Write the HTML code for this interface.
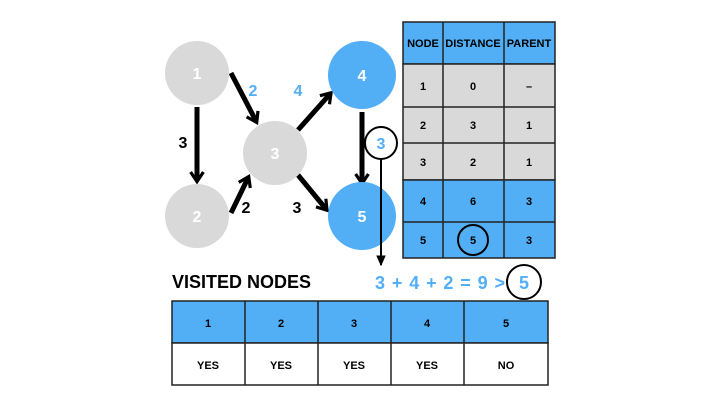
<!DOCTYPE html>
<html><head><style>body{margin:0;background:#fff}svg{display:block}text{font-family:"Liberation Sans",sans-serif;font-weight:bold}</style></head><body>
<svg width="720" height="405" viewBox="0 0 720 405" xmlns="http://www.w3.org/2000/svg">
<defs><marker id="a" viewBox="0 0 10 10" refX="6" refY="5" markerWidth="3.2" markerHeight="3.2" orient="auto"><path d="M1,1 L7,5 L1,9" fill="none" stroke="#000" stroke-width="2"/></marker>
<marker id="b" viewBox="0 0 10 10" refX="8" refY="5" markerWidth="6" markerHeight="6" orient="auto"><path d="M0,1 L9,5 L0,9Z" fill="#000"/></marker></defs>
<g stroke="#000" stroke-width="5" fill="none" marker-end="url(#a)">
<line x1="197" y1="107" x2="197" y2="180"/>
<line x1="231" y1="73" x2="256" y2="121"/>
<line x1="231" y1="213" x2="248" y2="178"/>
<line x1="298" y1="130" x2="330" y2="94"/>
<line x1="298" y1="175" x2="326" y2="209"/>
<line x1="362" y1="112" x2="362" y2="182"/>
</g>
<circle cx="197" cy="73" r="32" fill="#d9d9d9"/>
<circle cx="197" cy="216" r="32" fill="#d9d9d9"/>
<circle cx="275" cy="153" r="32" fill="#d9d9d9"/>
<circle cx="362" cy="75" r="34" fill="#52aef5"/>
<circle cx="362" cy="216" r="34" fill="#52aef5"/>
<g fill="#fff" font-size="16" text-anchor="middle">
<text x="197" y="79">1</text><text x="197" y="222">2</text><text x="275" y="159">3</text><text x="362" y="81">4</text><text x="362" y="222">5</text></g>
<g font-size="16" text-anchor="middle">
<text x="183" y="148">3</text><text x="246" y="213">2</text><text x="297" y="213">3</text>
<text x="253" y="96" fill="#52aef5">2</text><text x="298" y="96" fill="#52aef5">4</text>
<text x="381" y="149" fill="#52aef5">3</text></g>
<circle cx="381" cy="143" r="16" fill="none" stroke="#000" stroke-width="2"/>
<line x1="381" y1="159" x2="381" y2="265" stroke="#000" stroke-width="2" marker-end="url(#b)"/>
<g stroke="#222" stroke-width="1.5">
<rect x="403" y="22" width="152" height="42" fill="#52aef5"/>
<rect x="403" y="64" width="152" height="116" fill="#d9d9d9"/>
<rect x="403" y="180" width="152" height="78" fill="#52aef5"/>
<line x1="443" y1="22" x2="443" y2="258"/><line x1="504" y1="22" x2="504" y2="258"/>
<line x1="403" y1="107" x2="555" y2="107"/><line x1="403" y1="143" x2="555" y2="143"/><line x1="403" y1="222" x2="555" y2="222"/>
</g>
<g font-size="11" text-anchor="middle">
<text x="423" y="47">NODE</text><text x="473" y="47">DISTANCE</text><text x="529" y="47">PARENT</text>
<text x="423" y="90">1</text><text x="473" y="90">0</text><text x="529" y="90">–</text>
<text x="423" y="129">2</text><text x="473" y="129">3</text><text x="529" y="129">1</text>
<text x="423" y="166">3</text><text x="473" y="166">2</text><text x="529" y="166">1</text>
<text x="423" y="205">4</text><text x="473" y="205">6</text><text x="529" y="205">3</text>
<text x="423" y="244">5</text><text x="473" y="244">5</text><text x="529" y="244">3</text></g>
<circle cx="473" cy="240" r="15" fill="none" stroke="#000" stroke-width="2"/>
<text x="172" y="288" font-size="18">VISITED NODES</text>
<text x="375" y="289" font-size="18" fill="#52aef5" textLength="130" lengthAdjust="spacing">3 + 4 + 2 = 9 &gt;</text>
<text x="524" y="289" font-size="18" fill="#52aef5" text-anchor="middle">5</text>
<circle cx="524" cy="282" r="17" fill="none" stroke="#000" stroke-width="2"/>
<g stroke="#222" stroke-width="1.5">
<rect x="172" y="301" width="376" height="42" fill="#52aef5"/>
<rect x="172" y="343" width="376" height="42" fill="#fff"/>
<line x1="245" y1="301" x2="245" y2="385"/><line x1="318" y1="301" x2="318" y2="385"/><line x1="391" y1="301" x2="391" y2="385"/><line x1="464" y1="301" x2="464" y2="385"/></g>
<g font-size="11" text-anchor="middle">
<text x="208" y="327">1</text><text x="281" y="327">2</text><text x="354" y="327">3</text><text x="427" y="327">4</text><text x="506" y="327">5</text>
<text x="208" y="369">YES</text><text x="281" y="369">YES</text><text x="354" y="369">YES</text><text x="427" y="369">YES</text><text x="506" y="369">NO</text></g>
</svg>
</body></html>
